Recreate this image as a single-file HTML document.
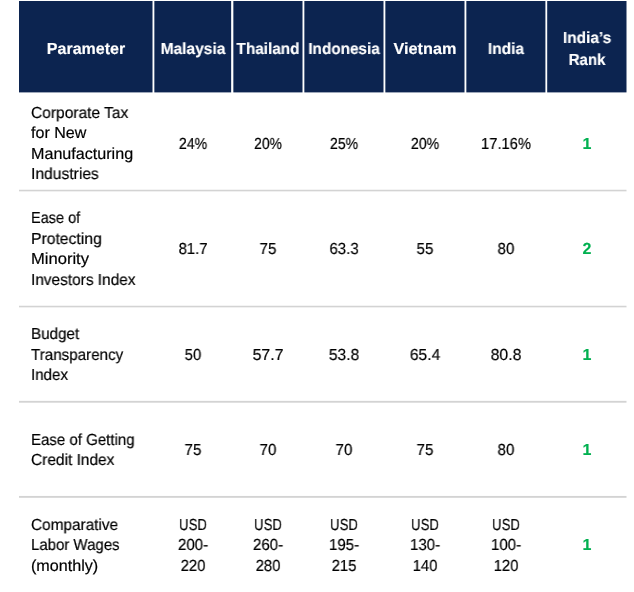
<!DOCTYPE html>
<html><head><meta charset="utf-8"><style>
html,body{margin:0;padding:0;background:#fff;}
body{width:634px;height:592px;position:relative;overflow:hidden;font-family:"Liberation Sans",sans-serif;text-rendering:geometricPrecision;}
.bg{position:absolute;left:0;top:0;}
.t{position:absolute;white-space:nowrap;line-height:20px;transform-origin:0 50%;will-change:transform;-webkit-text-stroke:0.2px currentColor;}
.b{-webkit-text-stroke:0.15px currentColor;}
.c{width:200px;text-align:center;transform-origin:50% 50%;}
</style></head><body>
<svg class="bg" width="634" height="592" viewBox="0 0 634 592"><rect x="19.0" y="1.0" width="133.50" height="91.40" fill="#0c2450"/><rect x="154.35" y="1.0" width="76.80" height="91.40" fill="#0c2450"/><rect x="233.35" y="1.0" width="69.15" height="91.40" fill="#0c2450"/><rect x="304.35" y="1.0" width="79.15" height="91.40" fill="#0c2450"/><rect x="385.35" y="1.0" width="79.15" height="91.40" fill="#0c2450"/><rect x="466.35" y="1.0" width="79.05" height="91.40" fill="#0c2450"/><rect x="547.2" y="1.0" width="79.30" height="91.40" fill="#0c2450"/><rect x="19" y="189.75" width="607.5" height="1.6" fill="#d3d3d3"/><rect x="19" y="305.75" width="607.5" height="1.6" fill="#d3d3d3"/><rect x="19" y="400.85" width="607.5" height="1.85" fill="#d3d3d3"/><rect x="19" y="495.95" width="607.5" height="1.85" fill="#d3d3d3"/></svg>
<div class="t c b" style="left:-14.00px;top:39.90px;font-size:16px;font-weight:bold;color:#fff;">Parameter</div>
<div class="t c b" style="left:92.60px;top:39.90px;font-size:16px;font-weight:bold;color:#fff;transform:scaleX(0.9713);">Malaysia</div>
<div class="t c b" style="left:167.50px;top:39.90px;font-size:16px;font-weight:bold;color:#fff;transform:scaleX(0.9593);">Thailand</div>
<div class="t c b" style="left:243.80px;top:39.90px;font-size:16px;font-weight:bold;color:#fff;transform:scaleX(0.9574);">Indonesia</div>
<div class="t c b" style="left:324.80px;top:39.90px;font-size:16px;font-weight:bold;color:#fff;transform:scaleX(1.0169);">Vietnam</div>
<div class="t c b" style="left:405.70px;top:39.90px;font-size:16px;font-weight:bold;color:#fff;transform:scaleX(0.9669);">India</div>
<div class="t c b" style="left:486.80px;top:29.30px;font-size:16px;font-weight:bold;color:#fff;transform:scaleX(0.9665);">India&#8217;s</div>
<div class="t c b" style="left:486.70px;top:50.80px;font-size:16px;font-weight:bold;color:#fff;transform:scaleX(0.9374);">Rank</div>
<div class="t" style="left:31.00px;top:103.90px;font-size:16px;color:#000000;transform:scaleX(0.9710);">Corporate Tax</div>
<div class="t" style="left:31.00px;top:124.40px;font-size:16px;color:#000000;transform:scaleX(1.0024);">for New</div>
<div class="t" style="left:31.00px;top:144.90px;font-size:16px;color:#000000;transform:scaleX(1.0070);">Manufacturing</div>
<div class="t" style="left:31.00px;top:165.40px;font-size:16px;color:#000000;transform:scaleX(0.9775);">Industries</div>
<div class="t c" style="left:92.80px;top:134.65px;font-size:16px;color:#000000;transform:scaleX(0.8871);">24%</div>
<div class="t c" style="left:167.70px;top:134.65px;font-size:16px;color:#000000;transform:scaleX(0.8714);">20%</div>
<div class="t c" style="left:243.90px;top:134.65px;font-size:16px;color:#000000;transform:scaleX(0.8839);">25%</div>
<div class="t c" style="left:324.80px;top:134.65px;font-size:16px;color:#000000;transform:scaleX(0.8871);">20%</div>
<div class="t c" style="left:406.00px;top:134.65px;font-size:16px;color:#000000;transform:scaleX(0.9176);">17.16%</div>
<div class="t c b" style="left:486.70px;top:134.65px;font-size:16px;font-weight:bold;color:#00b050;">1</div>
<div class="t" style="left:31.00px;top:209.20px;font-size:16px;color:#000000;transform:scaleX(0.9063);">Ease of</div>
<div class="t" style="left:31.00px;top:229.70px;font-size:16px;color:#000000;transform:scaleX(0.9815);">Protecting</div>
<div class="t" style="left:31.00px;top:250.20px;font-size:16px;color:#000000;transform:scaleX(1.0354);">Minority</div>
<div class="t" style="left:31.00px;top:270.70px;font-size:16px;color:#000000;transform:scaleX(0.9632);">Investors Index</div>
<div class="t c" style="left:92.80px;top:239.95px;font-size:16px;color:#000000;transform:scaleX(0.9282);">81.7</div>
<div class="t c" style="left:167.70px;top:239.95px;font-size:16px;color:#000000;transform:scaleX(0.9400);">75</div>
<div class="t c" style="left:243.90px;top:239.95px;font-size:16px;color:#000000;transform:scaleX(0.9400);">63.3</div>
<div class="t c" style="left:324.80px;top:239.95px;font-size:16px;color:#000000;transform:scaleX(0.9400);">55</div>
<div class="t c" style="left:406.00px;top:239.95px;font-size:16px;color:#000000;transform:scaleX(0.9400);">80</div>
<div class="t c b" style="left:486.70px;top:239.95px;font-size:16px;font-weight:bold;color:#00b050;">2</div>
<div class="t" style="left:31.00px;top:325.40px;font-size:16px;color:#000000;transform:scaleX(0.9506);">Budget</div>
<div class="t" style="left:31.00px;top:345.90px;font-size:16px;color:#000000;transform:scaleX(0.9482);">Transparency</div>
<div class="t" style="left:31.00px;top:366.40px;font-size:16px;color:#000000;transform:scaleX(0.9429);">Index</div>
<div class="t c" style="left:92.80px;top:345.90px;font-size:16px;color:#000000;transform:scaleX(0.9274);">50</div>
<div class="t c" style="left:167.70px;top:345.90px;font-size:16px;color:#000000;transform:scaleX(0.9892);">57.7</div>
<div class="t c" style="left:243.90px;top:345.90px;font-size:16px;color:#000000;transform:scaleX(0.9732);">53.8</div>
<div class="t c" style="left:324.80px;top:345.90px;font-size:16px;color:#000000;transform:scaleX(0.9732);">65.4</div>
<div class="t c" style="left:406.00px;top:345.90px;font-size:16px;color:#000000;transform:scaleX(0.9860);">80.8</div>
<div class="t c b" style="left:486.70px;top:345.90px;font-size:16px;font-weight:bold;color:#00b050;">1</div>
<div class="t" style="left:31.00px;top:430.70px;font-size:16px;color:#000000;transform:scaleX(0.9385);">Ease of Getting</div>
<div class="t" style="left:31.00px;top:451.20px;font-size:16px;color:#000000;transform:scaleX(0.9667);">Credit Index</div>
<div class="t c" style="left:92.80px;top:440.95px;font-size:16px;color:#000000;transform:scaleX(0.9400);">75</div>
<div class="t c" style="left:167.70px;top:440.95px;font-size:16px;color:#000000;transform:scaleX(0.9400);">70</div>
<div class="t c" style="left:243.90px;top:440.95px;font-size:16px;color:#000000;transform:scaleX(0.9400);">70</div>
<div class="t c" style="left:324.80px;top:440.95px;font-size:16px;color:#000000;transform:scaleX(0.9400);">75</div>
<div class="t c" style="left:406.00px;top:440.95px;font-size:16px;color:#000000;transform:scaleX(0.9400);">80</div>
<div class="t c b" style="left:486.70px;top:440.95px;font-size:16px;font-weight:bold;color:#00b050;">1</div>
<div class="t" style="left:31.00px;top:515.90px;font-size:16px;color:#000000;transform:scaleX(0.9603);">Comparative</div>
<div class="t" style="left:31.00px;top:536.40px;font-size:16px;color:#000000;transform:scaleX(0.9368);">Labor Wages</div>
<div class="t" style="left:31.00px;top:556.90px;font-size:16px;color:#000000;transform:scaleX(1.0077);">(monthly)</div>
<div class="t c" style="left:92.80px;top:515.90px;font-size:16px;color:#000000;transform:scaleX(0.8231);">USD</div>
<div class="t c" style="left:92.80px;top:536.40px;font-size:16px;color:#000000;transform:scaleX(0.9433);">200-</div>
<div class="t c" style="left:92.80px;top:556.90px;font-size:16px;color:#000000;transform:scaleX(0.9293);">220</div>
<div class="t c" style="left:167.70px;top:515.90px;font-size:16px;color:#000000;transform:scaleX(0.8231);">USD</div>
<div class="t c" style="left:167.70px;top:536.40px;font-size:16px;color:#000000;transform:scaleX(0.9433);">260-</div>
<div class="t c" style="left:167.70px;top:556.90px;font-size:16px;color:#000000;transform:scaleX(0.9293);">280</div>
<div class="t c" style="left:243.90px;top:515.90px;font-size:16px;color:#000000;transform:scaleX(0.8231);">USD</div>
<div class="t c" style="left:243.90px;top:536.40px;font-size:16px;color:#000000;transform:scaleX(0.9433);">195-</div>
<div class="t c" style="left:243.90px;top:556.90px;font-size:16px;color:#000000;transform:scaleX(0.9293);">215</div>
<div class="t c" style="left:324.80px;top:515.90px;font-size:16px;color:#000000;transform:scaleX(0.8231);">USD</div>
<div class="t c" style="left:324.80px;top:536.40px;font-size:16px;color:#000000;transform:scaleX(0.9433);">130-</div>
<div class="t c" style="left:324.80px;top:556.90px;font-size:16px;color:#000000;transform:scaleX(0.9293);">140</div>
<div class="t c" style="left:406.00px;top:515.90px;font-size:16px;color:#000000;transform:scaleX(0.8231);">USD</div>
<div class="t c" style="left:406.00px;top:536.40px;font-size:16px;color:#000000;transform:scaleX(0.9433);">100-</div>
<div class="t c" style="left:406.00px;top:556.90px;font-size:16px;color:#000000;transform:scaleX(0.9293);">120</div>
<div class="t c b" style="left:486.70px;top:536.40px;font-size:16px;font-weight:bold;color:#00b050;">1</div>
</body></html>
